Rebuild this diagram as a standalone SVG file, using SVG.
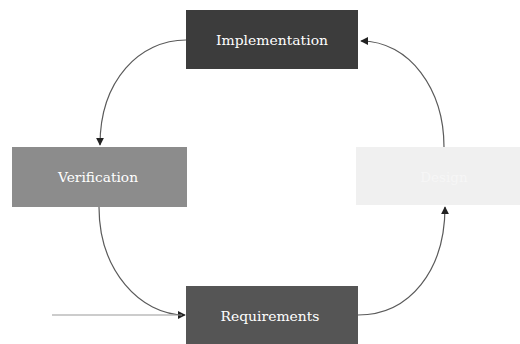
<svg xmlns="http://www.w3.org/2000/svg" width="520" height="344" viewBox="0 0 520 344">
<style>
.lbl{font-family:"DejaVu Serif","Liberation Serif",serif;font-size:13.5px;fill:#ffffff;text-anchor:middle;dominant-baseline:central}
.con{fill:none;stroke:#5a5a5a;stroke-width:1.2}
</style>
<defs>
<marker id="ah" viewBox="0 0 10 10" refX="9" refY="5" markerWidth="8" markerHeight="8" markerUnits="userSpaceOnUse" orient="auto">
<path d="M0,0 L10,5 L0,10 z" fill="#222"/>
</marker>
</defs>
<rect width="520" height="344" fill="#ffffff"/>
<g id="connectors">
<path class="con" d="M186,40 C140,40 100,80 100,145" marker-end="url(#ah)"/>
<path class="con" d="M444,147 C444,90 410,41 361,41" marker-end="url(#ah)"/>
<path class="con" d="M99,207 C99,270 140,315 185,315" marker-end="url(#ah)"/>
<path class="con" d="M358,315 C410,315 445,270 445,207" marker-end="url(#ah)"/>
<path d="M52,315 L182,315" stroke="#9a9a9a" stroke-width="1.2" fill="none"/>
</g>
<g id="implementation">
<rect x="186" y="10" width="172" height="59" fill="#3c3c3c"/>
<text class="lbl" x="272" y="40" textLength="112" lengthAdjust="spacingAndGlyphs">Implementation</text>
</g>
<g id="verification">
<rect x="12" y="147" width="175" height="60" fill="#8c8c8c"/>
<text class="lbl" x="98" y="177" textLength="80" lengthAdjust="spacingAndGlyphs">Verification</text>
</g>
<g id="design">
<rect x="356" y="147" width="164" height="58" fill="#f0f0f0"/>
<text class="lbl" x="444" y="177" style="fill:#f6f6f6">Design</text>
</g>
<g id="requirements">
<rect x="186" y="286" width="172" height="58" fill="#555555"/>
<text class="lbl" x="270" y="316" textLength="99" lengthAdjust="spacingAndGlyphs">Requirements</text>
</g>
</svg>
